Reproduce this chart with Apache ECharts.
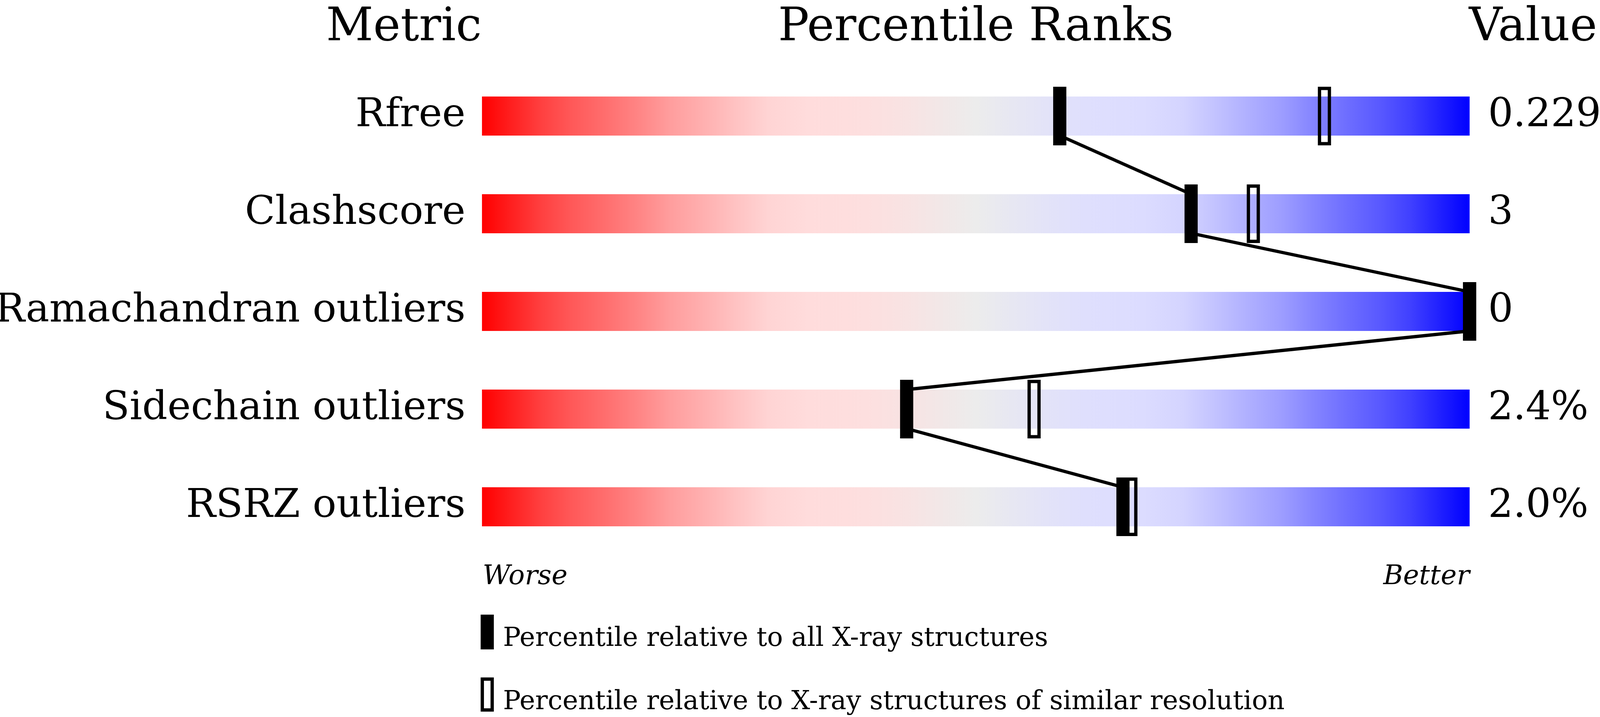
<!DOCTYPE html>
<html>
<head>
<meta charset="utf-8">
<script src="https://cdn.jsdelivr.net/npm/echarts@6/dist/echarts.min.js"></script>
<style>
html,body{margin:0;padding:0;background:#fff;overflow:hidden;width:100%;height:100%;}
#chart{width:100vw;height:100vh;}
</style>
</head>
<body>
<div id="chart"></div>
<script>
// ---- data ----
const categories = ['Rfree', 'Clashscore', 'Ramachandran outliers', 'Sidechain outliers', 'RSRZ outliers'];
const valueLabels = ['0.229', '3', '0', '2.4%', '2.0%'];
const pctAll = [58.5, 71.8, 100, 43.0, 64.9];
const pctSimilar = [85.3, 78.1, 100, 55.9, 65.7];
const scaleMax = 100;
const headers = ['Metric', 'Percentile Ranks', 'Value'];
const axisEnds = ['Worse', 'Better'];
const legendTexts = ['Percentile relative to all X-ray structures', 'Percentile relative to X-ray structures of similar resolution'];

// ---- styling ----
const FONT = '"DejaVu Serif", "Liberation Serif", serif';
const gradStops = [
  [0.00, '#ff0000'], [0.03, '#ff2020'], [0.06, '#ff4040'], [0.09, '#ff5858'],
  [0.125, '#ff6e6e'], [0.16, '#ff8686'], [0.19, '#ff9d9d'], [0.225, '#ffb0b0'],
  [0.26, '#ffc4c4'], [0.29, '#ffd4d4'], [0.33, '#ffdcdc'], [0.39, '#fddfdf'],
  [0.43, '#f8e3e3'], [0.47, '#f1e8e8'], [0.50, '#ececec'], [0.53, '#e8e8f1'],
  [0.57, '#e3e3f8'], [0.61, '#dfdffd'], [0.67, '#dcdcff'], [0.71, '#d4d4ff'],
  [0.74, '#c4c4ff'], [0.775, '#b0b0ff'], [0.81, '#9d9dff'], [0.84, '#8686ff'],
  [0.875, '#6e6eff'], [0.91, '#5858ff'], [0.94, '#4040ff'], [0.97, '#2020ff'],
  [1.00, '#0000ff']
].map(s => ({offset: s[0], color: s[1]}));

const dom = document.getElementById('chart');
const chart = echarts.init(dom, null, {renderer: 'canvas'});
const W = chart.getWidth(), H = chart.getHeight();
const sx = W / 4860, sy = H / 1835, sf = Math.min(sx, sy);
const X = v => v * sx, Y = v => v * sy, F = v => v * sf;
const K = 0.29; // baseline offset below the 'middle' line, in em
const midFromBaseline = (base, size) => Y(base) - K * F(size);

const BAR_H = Y(100);
const MK_W = X(40), MK_H = Y(150), MK_LW = F(10);

const labelStyle = {
  fontSize: F(120), fontFamily: FONT, color: '#000',
  padding: [Math.max(0, 2 * (Y(50) - K * F(120))), 0, 0, 0]
};

const lineData = [];
for (let i = 0; i < categories.length - 1; i++) {
  lineData.push([pctAll[i], i, pctAll[i + 1], i + 1]);
}

const txt = (text, x, base, size, align, italic) => ({
  type: 'text', silent: true,
  style: {
    text: text, x: X(x), y: midFromBaseline(base, size),
    font: (italic ? 'italic ' : '') + F(size) + 'px ' + FONT,
    textAlign: align, textVerticalAlign: 'middle', fill: '#000'
  }
});

const option = {
  backgroundColor: '#fff',
  animation: false,
  grid: {left: X(1464), right: X(396), top: Y(172), height: Y(1250), outerBoundsMode: 'none', containLabel: false},
  xAxis: {type: 'value', min: 0, max: scaleMax, show: false},
  yAxis: [
    {
      type: 'category', data: categories, inverse: true, position: 'left',
      axisLine: {show: false}, axisTick: {show: false}, splitLine: {show: false},
      axisLabel: Object.assign({margin: X(50)}, labelStyle)
    },
    {
      type: 'category', data: valueLabels, inverse: true, position: 'right',
      axisLine: {show: false}, axisTick: {show: false}, splitLine: {show: false},
      axisLabel: Object.assign({margin: X(56)}, labelStyle)
    }
  ],
  series: [
    {
      type: 'bar', yAxisIndex: 0, silent: true, barWidth: BAR_H, z: 1,
      data: categories.map(() => scaleMax),
      itemStyle: {color: new echarts.graphic.LinearGradient(0, 0, 1, 0, gradStops)}
    },
    {
      type: 'custom', yAxisIndex: 0, silent: true, z: 2,
      dimensions: ['x1', 'y1', 'x2', 'y2'],
      encode: {x: [0, 2], y: [1, 3]},
      data: lineData,
      renderItem: function (params, api) {
        const p1 = api.coord([api.value(0), api.value(1)]);
        const p2 = api.coord([api.value(2), api.value(3)]);
        return {
          type: 'line',
          shape: {x1: p1[0], y1: p1[1] + BAR_H / 2, x2: p2[0], y2: p2[1] - BAR_H / 2},
          style: {stroke: '#000', lineWidth: F(10), lineCap: 'butt'}
        };
      }
    },
    {
      type: 'custom', yAxisIndex: 0, silent: true, z: 3,
      encode: {x: 0, y: 1},
      data: pctAll.map((v, i) => [v, i]),
      renderItem: function (params, api) {
        const p = api.coord([api.value(0), api.value(1)]);
        return {
          type: 'rect',
          shape: {x: p[0] - MK_W / 2, y: p[1] - MK_H / 2, width: MK_W, height: MK_H},
          style: {fill: '#000'}
        };
      }
    },
    {
      type: 'custom', yAxisIndex: 0, silent: true, z: 4,
      encode: {x: 0, y: 1},
      data: pctSimilar.map((v, i) => [v, i]),
      renderItem: function (params, api) {
        const p = api.coord([api.value(0), api.value(1)]);
        return {
          type: 'rect',
          shape: {x: p[0] - MK_W / 2 + MK_LW / 2, y: p[1] - MK_H / 2 + MK_LW / 2,
                  width: MK_W - MK_LW, height: MK_H - MK_LW},
          style: {fill: 'none', stroke: '#000', lineWidth: MK_LW}
        };
      }
    }
  ],
  graphic: [
    txt(headers[0], 1463, 107, 140, 'right'),
    txt(headers[1], 2964, 107, 140, 'center'),
    txt(headers[2], 4462, 107, 140, 'left'),
    txt(axisEnds[0], 1466, 1497, 82, 'left', true),
    txt(axisEnds[1], 4464, 1497, 82, 'right', true),
    {type: 'rect', silent: true, shape: {x: X(1460), y: Y(1573), width: X(40), height: Y(89)}, style: {fill: '#000'}},
    txt(legendTexts[0], 1528, 1655, 80, 'left'),
    {type: 'rect', silent: true, shape: {x: X(1465), y: Y(1738), width: X(30), height: Y(79)}, style: {fill: 'none', stroke: '#000', lineWidth: F(10)}},
    txt(legendTexts[1], 1528, 1817, 80, 'left')
  ]
};

chart.setOption(option);
window.addEventListener('resize', function () { chart.resize(); });
</script>
</body>
</html>
